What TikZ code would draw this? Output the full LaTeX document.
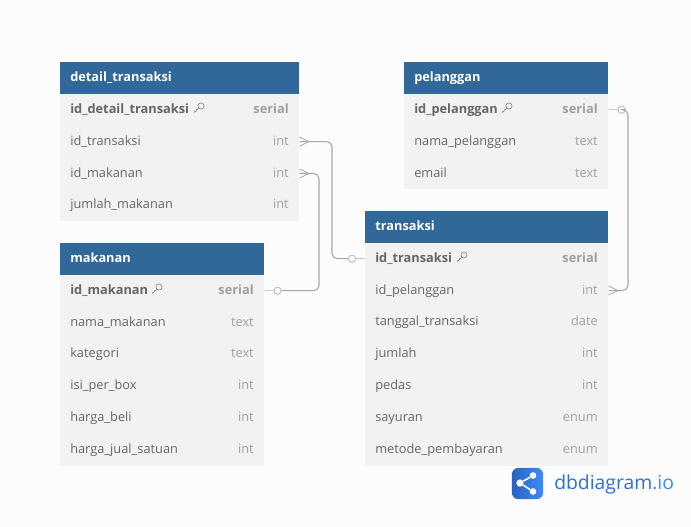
\documentclass[tikz,border=0pt]{standalone}
\usepackage{fontspec}
\setmainfont{Open Sans}
\usetikzlibrary{calc}
\definecolor{headblue}{HTML}{30689A}
\definecolor{rowgray}{HTML}{F2F2F2}
\definecolor{pagegray}{HTML}{FCFCFC}
\definecolor{linegray}{HTML}{A6A6AE}
\definecolor{namegray}{HTML}{666666}
\definecolor{typegray}{HTML}{A0A0A0}
\definecolor{logoblue}{HTML}{2F6FD6}
\definecolor{logolight}{HTML}{3D8BF7}
\tikzset{
    txt/.style={inner sep=0pt, yshift=-0.7pt, text height=7.2pt, text depth=2.2pt, font=\fontsize{9.6}{11}\selectfont},
    headbox/.style={anchor=north west, fill=headblue, text=white, align=left, inner xsep=7.5pt, inner ysep=0pt,
        minimum height=23.6pt, text height=7.2pt, text depth=2.2pt, font=\fontsize{9.6}{11}\selectfont\bfseries},
    rowbox/.style={anchor=north west, fill=rowgray, minimum height=23.9pt, inner sep=0pt},
    colname/.style={txt, anchor=west, text=namegray},
    coltype/.style={txt, anchor=east, text=typegray},
    zero/.style={circle, draw=linegray!75, fill=pagegray, line width=0.7pt, minimum size=5.4pt, inner sep=0pt},
    rel/.style={draw=linegray, line width=0.8pt, rounded corners=4pt},
    reltail/.style={draw=linegray!65, line width=0.8pt},
    crow/.style={draw=linegray, line width=0.6pt},
}
% pied de corbeau, ouvert vers la table
\newcommand{\crowfoot}[1]{
    \draw[crow] ($(#1.east)+(0,-3.4pt)$) -- ($(#1.east)+(7pt,0)$) -- ($(#1.east)+(0,3.4pt)$);
    \draw[crow] (#1.east) -- ($(#1.east)+(7pt,0)$);
}
\newcommand{\keyicon}[1]{
    \draw[typegray!80!black, line width=0.45pt, shift={#1}] (1.5pt,1.5pt) circle (2.3pt)
        (0,0) -- (-3.2pt,-3.2pt) -- (-3.2pt,-2.2pt) (-1.8pt,-1.8pt) -- (-1.8pt,-0.9pt);
}
\begin{document}
\begin{tikzpicture}[x=0.75pt, y=-0.75pt, >=stealth]
    \useasboundingbox[fill=pagegray] (0,0) rectangle (691,526);

    % -- detail_transaksi --
    \node[headbox, minimum width=179.25pt, text width=164.25pt] (detail) at (60,62) {detail\_transaksi};
    \node[rowbox, minimum width=179.25pt] (detail0) at (60,93.5) {};
    \node[colname, font=\fontsize{9.6}{11}\selectfont\bfseries] (detail0n) at (70,109) {id\_detail\_transaksi};
    \node[coltype, font=\fontsize{9.6}{11}\selectfont\bfseries] (detail0t) at (289,109) {serial};
    \keyicon{(199,108)}
    \foreach \nm/\ty [count=\i] in {id\_transaksi/int, id\_makanan/int, jumlah\_makanan/int} {
        \node[rowbox, minimum width=179.25pt] (detail\i) at (60,{93.5+\i*31.9}) {};
        \node[colname] (detail\i n) at (70,{109+\i*31.9}) {\nm};
        \node[coltype] (detail\i t) at (289,{109+\i*31.9}) {\ty};
    }

    % -- makanan --
    \node[headbox, minimum width=153pt, text width=138pt] (makanan) at (60,243) {makanan};
    \node[rowbox, minimum width=153pt] (makanan0) at (60,274.5) {};
    \node[colname, font=\fontsize{9.6}{11}\selectfont\bfseries] (makanan0n) at (70,290) {id\_makanan};
    \node[coltype, font=\fontsize{9.6}{11}\selectfont\bfseries] (makanan0t) at (254,290) {serial};
    \keyicon{(157,289)}
    \foreach \nm/\ty [count=\i] in {nama\_makanan/text, kategori/text, isi\_per\_box/int, harga\_beli/int, harga\_jual\_satuan/int} {
        \node[rowbox, minimum width=153pt] (makanan\i) at (60,{274.5+\i*31.85}) {};
        \node[colname] (makanan\i n) at (70,{290+\i*31.85}) {\nm};
        \node[coltype] (makanan\i t) at (254,{290+\i*31.85}) {\ty};
    }

    % -- pelanggan --
    \node[headbox, minimum width=153pt, text width=138pt] (pelanggan) at (404,62) {pelanggan};
    \node[rowbox, minimum width=153pt] (pelanggan0) at (404,93.5) {};
    \node[colname, font=\fontsize{9.6}{11}\selectfont\bfseries] (pelanggan0n) at (414,109) {id\_pelanggan};
    \node[coltype, font=\fontsize{9.6}{11}\selectfont\bfseries] (pelanggan0t) at (598,109) {serial};
    \keyicon{(507,108)}
    \foreach \nm/\ty [count=\i] in {nama\_pelanggan/text, email/text} {
        \node[rowbox, minimum width=153pt] (pelanggan\i) at (404,{93.5+\i*31.9}) {};
        \node[colname] (pelanggan\i n) at (414,{109+\i*31.9}) {\nm};
        \node[coltype] (pelanggan\i t) at (598,{109+\i*31.9}) {\ty};
    }

    % -- transaksi --
    \node[headbox, minimum width=182.25pt, text width=167.25pt] (transaksi) at (365,211) {transaksi};
    \node[rowbox, minimum width=182.25pt] (transaksi0) at (365,242.5) {};
    \node[colname, font=\fontsize{9.6}{11}\selectfont\bfseries] (transaksi0n) at (375,258) {id\_transaksi};
    \node[coltype, font=\fontsize{9.6}{11}\selectfont\bfseries] (transaksi0t) at (598,258) {serial};
    \keyicon{(462,257)}
    \foreach \nm/\ty [count=\i] in {id\_pelanggan/int, tanggal\_transaksi/date, jumlah/int, pedas/int, sayuran/enum, metode\_pembayaran/enum} {
        \node[rowbox, minimum width=182.25pt] (transaksi\i) at (365,{242.5+\i*31.85}) {};
        \node[colname] (transaksi\i n) at (375,{258+\i*31.85}) {\nm};
        \node[coltype] (transaksi\i t) at (598,{258+\i*31.85}) {\ty};
    }

    % -- relations --
    \coordinate (bendA) at (332,200);
    \coordinate (bendB) at (319,230);
    \coordinate (bendC) at (628,200);

    \draw[reltail] (transaksi0.west) -- ++(-13,0) node[zero, anchor=center] (zeroA) {};
    \draw[rel] (detail1.east) -| (bendA) |- (zeroA.west);
    \crowfoot{detail1}

    \draw[reltail] (makanan0.east) -- ++(13,0) node[zero, anchor=center] (zeroB) {};
    \draw[rel] (detail2.east) -| (bendB) |- (zeroB.east);
    \crowfoot{detail2}

    \draw[reltail] (pelanggan0.east) -- ++(13,0) node[zero, anchor=center] (zeroC) {};
    \draw[rel] (zeroC.east) -| (bendC) |- (transaksi1.east);
    \crowfoot{transaksi1}

    % -- logo --
    \node[rounded corners=5pt, left color=logoblue!90!black, right color=logolight, minimum width=23.5pt, minimum height=23.5pt, inner sep=0pt] (logo) at (527.5,483.5) {};
    \node[circle, fill=white, minimum size=5.5pt, inner sep=0pt] (logoL) at (520,483) {};
    \node[circle, fill=white, minimum size=5pt, inner sep=0pt] (logoT) at (533,475.5) {};
    \node[circle, fill=white, minimum size=5pt, inner sep=0pt] (logoB) at (533,491.5) {};
    \draw[white, line width=1.2pt] (logoT) -- (logoL) -- (logoB);
    \node[anchor=west, inner sep=0pt, font=\fontsize{14.5}{18}\selectfont, text=logoblue] (logotext) at (554,484.5) {dbdiagram\textcolor{logolight}{.io}};
\end{tikzpicture}
\end{document}
